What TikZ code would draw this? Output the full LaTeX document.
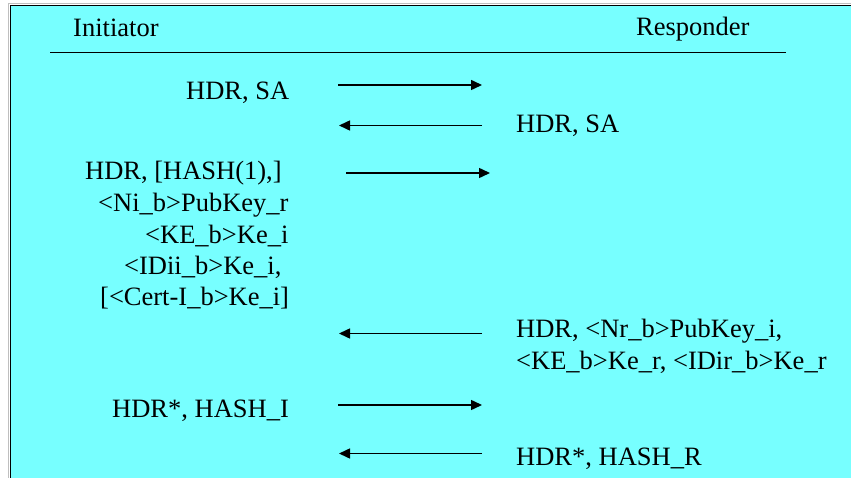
\documentclass[tikz,border=0pt]{standalone}
\usepackage{fontspec}
\setmainfont{Liberation Serif}
\usetikzlibrary{arrows.meta}
\definecolor{bgcyan}{RGB}{119,255,255}
\begin{document}
\begin{tikzpicture}[x=1pt,y=-1pt,
  lbl/.style={inner sep=0pt, anchor=base west, font=\fontsize{26.5}{31}\selectfont},
  msg/.style={line width=1.5pt, draw=black, -{Triangle[length=11pt,width=10pt]}},
  rule/.style={line width=1.5pt, draw=black}]
\useasboundingbox (0,0) rectangle (851,478);
\fill[white] (0,0) rectangle (851,478);
\fill[bgcyan] (10,5) rectangle (851,478);
\draw[gray!50, line width=1pt] (8.5,478) -- (8.5,3.5) -- (851,3.5);
\draw[line width=1.6pt] (10.5,478) -- (10.5,5.5) -- (851,5.5);
% headers
\node[lbl] (init) at (73,37) {Initiator};
\node[lbl] (resp) at (636,36) {Responder};
\coordinate (hl) at (50,52.5);
\coordinate (hr) at (786,52.5);
\draw[rule] (hl) -- (hr);
% message 1
\node[lbl] (m1) at (186,100) {HDR, SA};
\coordinate (a1s) at (338,85);
\coordinate (a1e) at (482,85);
\draw[msg] (a1s) -- (a1e);
% message 2
\coordinate (a2s) at (482,125.5);
\coordinate (a2e) at (339,125.5);
\draw[msg] (a2s) -- (a2e);
\node[lbl] (r1) at (516,132.5) {HDR, SA};
% message 3
\node[lbl] (m3a) at (85,179.5) {HDR, [HASH(1),]};
\node[lbl] (m3b) at (98,211.5) {<Ni\_b>PubKey\_r};
\node[lbl] (m3c) at (145,243.3) {<KE\_b>Ke\_i};
\node[lbl] (m3d) at (124,274.7) {<IDii\_b>Ke\_i,};
\node[lbl] (m3e) at (100,305.7) {[<Cert-I\_b>Ke\_i]};
\coordinate (a3s) at (346,173);
\coordinate (a3e) at (490,173);
\draw[msg] (a3s) -- (a3e);
% message 4
\coordinate (a4s) at (482,333.5);
\coordinate (a4e) at (339,333.5);
\draw[msg] (a4s) -- (a4e);
\node[lbl] (r4a) at (516,337.7) {HDR, <Nr\_b>PubKey\_i,};
\node[lbl] (r4b) at (516,369.3) {<KE\_b>Ke\_r, <IDir\_b>Ke\_r};
% message 5
\node[lbl] (m5) at (112,417.3) {HDR*, HASH\_I};
\coordinate (a5s) at (338,405);
\coordinate (a5e) at (482,405);
\draw[msg] (a5s) -- (a5e);
% message 6
\coordinate (a6s) at (482,453.5);
\coordinate (a6e) at (339,453.5);
\draw[msg] (a6s) -- (a6e);
\node[lbl] (r6) at (516,465.7) {HDR*, HASH\_R};
\end{tikzpicture}
\end{document}
